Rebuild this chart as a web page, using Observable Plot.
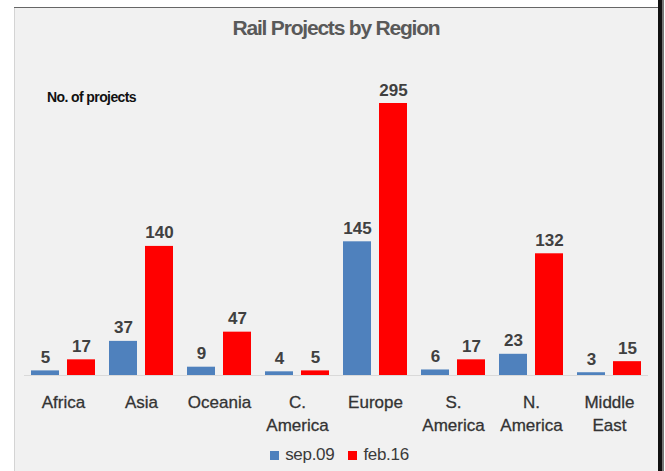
<!DOCTYPE html>
<html><head><meta charset="utf-8">
<script src="https://cdn.jsdelivr.net/npm/d3@7"></script>
<script src="https://cdn.jsdelivr.net/npm/@observablehq/plot@0.6"></script>
<style>
html,body{margin:0;padding:0;background:#fff}
body{width:665px;height:471px;overflow:hidden;position:relative;font-family:"Liberation Sans",Arial,sans-serif}
#panel{position:absolute;left:14px;top:7px;width:644px;height:464px;background:#f1f1f1;border-top:1px solid #666;box-shadow:inset 1px 0 0 #d4d4d4}
#edge{position:absolute;left:658px;top:0;width:4px;height:471px;background:#111}
#edge2{position:absolute;left:662px;top:0;width:2px;height:471px;background:#777}
#title{position:absolute;left:0;width:672px;top:17px;line-height:1;text-align:center;font-size:21px;font-weight:bold;color:#595959;letter-spacing:-1.2px;white-space:nowrap}
#ylab{position:absolute;left:47px;top:90px;line-height:1;font-size:14px;font-weight:bold;color:#111;letter-spacing:-0.6px;white-space:nowrap}
#chart{position:absolute;left:0;top:0}
#legend{position:absolute;left:0;width:679px;top:446px;line-height:1;text-align:center;font-size:17px;color:#3a3a3a;letter-spacing:-0.3px;white-space:nowrap}
#legend .item{display:inline-block;margin:0 7px}
#legend .sw{display:inline-block;width:9px;height:9px;margin-right:6px;vertical-align:0px}
</style>
</head><body>
<div id="panel"></div>
<div id="edge"></div><div id="edge2"></div>
<div id="chart"></div>
<div id="title">Rail Projects by Region</div>
<div id="ylab">No. of projects</div>
<div id="legend"></div>
<script>
const regions = ["Africa","Asia","Oceania","C.\nAmerica","Europe","S.\nAmerica","N.\nAmerica","Middle\nEast"];
const series = ["sep.09","feb.16"];
const sep09 = [5,37,9,4,145,6,23,3];
const feb16 = [17,140,47,5,295,17,132,15];
const seriesColors = ["#4f81bd","#ff0000"];

const rows = regions.flatMap((r,i)=>[
  {region:r, series:series[0], value:sep09[i]},
  {region:r, series:series[1], value:feb16[i]}
]);

const chart = Plot.plot({
  width:665, height:471,
  marginLeft:24, marginRight:17, marginTop:103, marginBottom:96,
  style:{background:"transparent", fontFamily:"Liberation Sans, Arial, sans-serif", overflow:"visible"},
  fx:{domain:regions, padding:0, axis:null, label:null},
  x:{domain:series, paddingInner:0.222, paddingOuter:0.194, axis:null},
  y:{domain:[0,295], axis:null},
  color:{domain:series, range:seriesColors},
  marks:[
    Plot.ruleY([0], {stroke:"#d9d9d9"}),
    Plot.barY(rows, {fx:"region", x:"series", y:"value", fill:"series"}),
    Plot.text(rows, {fx:"region", x:"series", y:"value", text:d=>String(d.value), lineAnchor:"bottom", dy:-8, fontSize:17, fontWeight:"bold", fill:"#404040", letterSpacing:"-0.5px"}),
    Plot.text(regions, {fx:d=>d, frameAnchor:"bottom", text:d=>d, lineAnchor:"top", dy:16, fontSize:17, fill:"#333", lineHeight:1.35, letterSpacing:"-0.4px", stroke:"#333", strokeWidth:0.3})
  ]
});
document.getElementById("chart").appendChild(chart);

const lg = document.getElementById("legend");
series.forEach((s,i)=>{
  const item = document.createElement("span");
  item.className = "item";
  const sw = document.createElement("span");
  sw.className = "sw";
  sw.style.background = seriesColors[i];
  item.appendChild(sw);
  item.appendChild(document.createTextNode(s));
  lg.appendChild(item);
});
</script>
</body></html>
